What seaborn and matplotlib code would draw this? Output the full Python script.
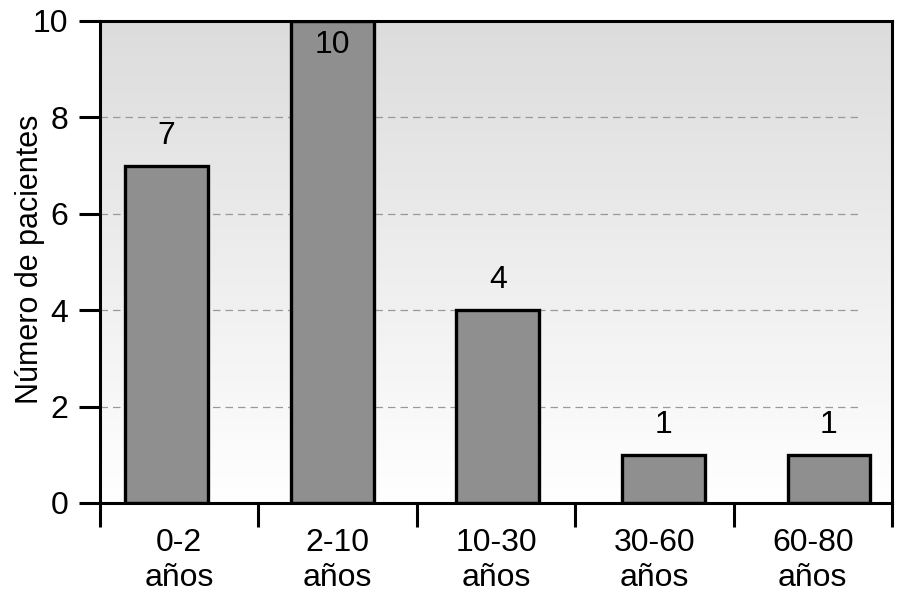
import matplotlib
matplotlib.use("Agg")
import matplotlib.pyplot as plt
import seaborn as sns
import numpy as np
import pandas as pd

# datos
categorias = ["0-2\naños", "2-10\naños", "10-30\naños", "30-60\naños", "60-80\naños"]
pacientes = [7, 10, 4, 1, 1]
yticks = [0, 2, 4, 6, 8, 10]

sns.set_style("white")
plt.rcParams['font.family'] = ['Liberation Sans', 'DejaVu Sans']
plt.rcParams['text.color'] = 'black'
plt.rcParams['xtick.color'] = 'black'
plt.rcParams['ytick.color'] = 'black'
plt.rcParams['axes.labelcolor'] = 'black'

df = pd.DataFrame({"edad": categorias, "n": pacientes})

fig = plt.figure(figsize=(9.22, 6.04), dpi=100)
ax = fig.add_axes([100 / 922, 101 / 604, 792 / 922, 482 / 604])

# fondo degradado gris -> blanco
grad = np.linspace(0, 1, 256).reshape(-1, 1)
ax.imshow(grad, cmap=matplotlib.colors.LinearSegmentedColormap.from_list("g", ["#dcdcdc", "#ffffff"]),
          extent=[0, 1, 0, 1], transform=ax.transAxes, aspect="auto", zorder=0)

sns.barplot(data=df, x="edad", y="n", color="#8f8f8f", edgecolor="black",
            linewidth=2.4, width=0.5, saturation=1, ax=ax, zorder=3)

xlim = (-0.4016, 4.381)
ax.set_xlim(*xlim)
ax.set_ylim(0, 10)

# lineas de referencia discontinuas
for y in yticks[1:-1]:
    ax.axhline(y, xmin=0, xmax=0.962, color="#999999", lw=0.9, ls=(0, (6, 4)), zorder=1)

# etiquetas de valor
for i, v in enumerate(pacientes):
    ax.text(i, min(v + 0.62, 9.5), str(v), ha="center", va="center", fontsize=23, zorder=4)

# ticks del eje x en los limites, etiquetas en el centro de cada celda
bordes = np.linspace(xlim[0], xlim[1], len(categorias) + 1)
centros = (bordes[:-1] + bordes[1:]) / 2
ax.set_xticks(bordes)
ax.set_xticklabels([""] * len(bordes))
ax.set_xticks(centros, minor=True)
ax.set_xticklabels(categorias, minor=True, fontsize=23, linespacing=1.2)
ax.tick_params(axis="x", which="major", direction="out", length=17, width=2.2, bottom=True)
ax.tick_params(axis="x", which="minor", length=0, pad=18, bottom=True)

ax.set_yticks(yticks)
ax.set_yticklabels([str(t) for t in yticks], fontsize=23)
ax.tick_params(axis="y", direction="out", length=15, width=2.2, pad=8, left=True)

ax.set_xlabel("")
ax.set_ylabel("Número de pacientes", fontsize=22)
ax.yaxis.set_label_coords(-0.069, 0.505)

for s in ax.spines.values():
    s.set_visible(True)
    s.set_linewidth(2.2)
    s.set_color("black")
    s.set_zorder(5)

fig.savefig("out.png", dpi=100)
